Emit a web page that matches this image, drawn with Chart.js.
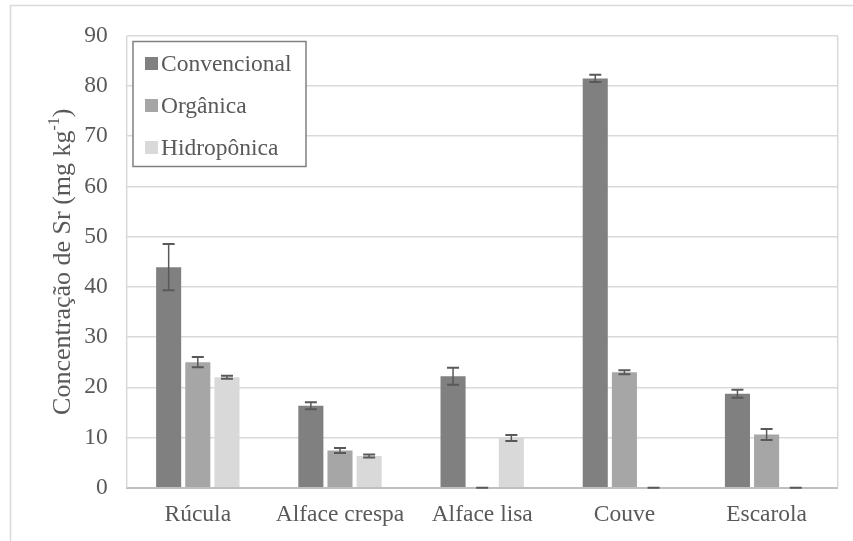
<!DOCTYPE html>
<html>
<head>
<meta charset="utf-8">
<script src="https://cdn.jsdelivr.net/npm/chart.js@4"></script>
<style>
  html, body { margin: 0; padding: 0; background: #ffffff; }
  #wrap { width: 853px; height: 541px; }
</style>
</head>
<body>
<div id="wrap"><canvas id="c" width="853" height="541"></canvas></div>
<script>
// Sr concentration (mg kg-1) in leafy vegetables by production system
const categories = ['Rúcula', 'Alface crespa', 'Alface lisa', 'Couve', 'Escarola'];
const seriesNames = ['Convencional', 'Orgânica', 'Hidropônica'];
const convencional = [43.9, 16.3, 22.2, 81.5, 18.7];
const convencionalErr = [4.6, 0.7, 1.7, 0.7, 0.8];
const organica = [25.0, 7.4, 0, 23.0, 10.6];
const organicaErr = [1.0, 0.5, 0, 0.4, 1.1];
const hidroponica = [22.0, 6.3, 9.9, 0, 0];
const hidroponicaErr = [0.3, 0.3, 0.6, 0, 0];
const yTicks = [0, 10, 20, 30, 40, 50, 60, 70, 80, 90];
const yTitle = 'Concentração de Sr (mg kg';
const yTitleSup = '-1';

const FONT = "'Liberation Serif', 'Times New Roman', serif";
const TEXT = '#595959';
const colors = ['#808080', '#a6a6a6', '#d9d9d9'];
const errors = [convencionalErr, organicaErr, hidroponicaErr];

// page background and the outer frame of the chart
const framePlugin = {
  id: 'frame',
  beforeDraw(chart) {
    const ctx = chart.ctx;
    ctx.save();
    ctx.fillStyle = '#ffffff';
    ctx.fillRect(0, 0, chart.width, chart.height);
    ctx.strokeStyle = '#d9d9d9';
    ctx.lineWidth = 1.5;
    ctx.strokeRect(10.5, 5.5, 1200, 1200);
    ctx.restore();
  },
  beforeDatasetsDraw(chart) {
    const a = chart.chartArea, ctx = chart.ctx;
    ctx.save();
    ctx.strokeStyle = '#d9d9d9';
    ctx.lineWidth = 1.5;
    ctx.beginPath();
    ctx.moveTo(a.left, a.bottom); ctx.lineTo(a.left, a.top);
    ctx.moveTo(a.right, a.top); ctx.lineTo(a.right, a.bottom);
    ctx.stroke();
    ctx.restore();
  }
};

// standard-deviation whiskers on every bar
const errorBarPlugin = {
  id: 'errorBars',
  afterDatasetsDraw(chart) {
    const ctx = chart.ctx, y = chart.scales.y;
    ctx.save();
    ctx.strokeStyle = '#595959';
    chart.data.datasets.forEach((ds, i) => {
      const meta = chart.getDatasetMeta(i);
      meta.data.forEach((bar, j) => {
        const v = ds.data[j], e = errors[i][j];
        const top = y.getPixelForValue(v + e);
        const bot = y.getPixelForValue(Math.max(0, v - e));
        const x = bar.x, half = 6;
        ctx.lineWidth = 1.5;
        ctx.beginPath();
        ctx.moveTo(x, top); ctx.lineTo(x, bot);
        ctx.stroke();
        ctx.lineWidth = 2;
        ctx.beginPath();
        ctx.moveTo(x - half, top); ctx.lineTo(x + half, top);
        ctx.moveTo(x - half, bot); ctx.lineTo(x + half, bot);
        ctx.stroke();
      });
    });
    ctx.restore();
  }
};

// boxed legend inside the plot area, plus the rotated y-axis title
const overlayPlugin = {
  id: 'overlay',
  afterDraw(chart) {
    const ctx = chart.ctx;
    ctx.save();
    // legend box
    const bx = 133, by = 41.5, bw = 173, bh = 125;
    ctx.fillStyle = '#ffffff';
    ctx.fillRect(bx, by, bw, bh);
    ctx.strokeStyle = '#808080';
    ctx.lineWidth = 1.5;
    ctx.strokeRect(bx, by, bw, bh);
    ctx.font = '23.5px ' + FONT;
    ctx.textBaseline = 'middle';
    chart.data.datasets.forEach((ds, i) => {
      const cy = 63.5 + i * 42;
      ctx.fillStyle = ds.backgroundColor;
      ctx.fillRect(145, cy - 6.5, 13, 13);
      ctx.fillStyle = TEXT;
      ctx.fillText(ds.label, 161, cy + 1);
    });
    // y-axis title with superscript exponent
    const a = chart.chartArea;
    ctx.translate(61, (a.top + a.bottom) / 2);
    ctx.rotate(-Math.PI / 2);
    ctx.font = '26px ' + FONT;
    const wMain = ctx.measureText(yTitle).width;
    ctx.font = '16px ' + FONT;
    const wSup = ctx.measureText(yTitleSup).width;
    ctx.font = '26px ' + FONT;
    const wClose = ctx.measureText(')').width;
    let x0 = -(wMain + wSup + wClose) / 2;
    ctx.fillStyle = TEXT;
    ctx.textBaseline = 'alphabetic';
    ctx.fillText(yTitle, x0, 9);
    ctx.font = '16px ' + FONT;
    ctx.fillText(yTitleSup, x0 + wMain, -2);
    ctx.font = '26px ' + FONT;
    ctx.fillText(')', x0 + wMain + wSup, 9);
    ctx.restore();
  }
};

new Chart(document.getElementById('c'), {
  type: 'bar',
  data: {
    labels: categories,
    datasets: [
      { label: seriesNames[0], data: convencional, backgroundColor: colors[0] },
      { label: seriesNames[1], data: organica, backgroundColor: colors[1] },
      { label: seriesNames[2], data: hidroponica, backgroundColor: colors[2] }
    ]
  },
  options: {
    responsive: false,
    devicePixelRatio: 1,
    animation: false,
    events: [],
    categoryPercentage: 0.615,
    barPercentage: 0.86,
    layout: { padding: { top: 35.7, right: 15.3, bottom: 0, left: 0 } },
    plugins: { legend: { display: false }, tooltip: { enabled: false } },
    scales: {
      x: {
        grid: { display: false, drawTicks: false },
        border: { display: true, color: '#bfbfbf', width: 2 },
        ticks: { color: TEXT, font: { family: FONT, size: 23.5 }, padding: 13, maxRotation: 0 },
        afterFit(s) { s.height = 541 - 487.7; }
      },
      y: {
        min: 0, max: 90,
        afterBuildTicks(s) { s.ticks = yTicks.map(v => ({ value: v })); },
        grid: { color: '#d9d9d9', lineWidth: 1.5, drawTicks: false },
        border: { display: false },
        ticks: { color: TEXT, font: { family: FONT, size: 23.5 }, padding: 19 },
        afterFit(s) { s.width = 126.7; }
      }
    }
  },
  plugins: [framePlugin, errorBarPlugin, overlayPlugin]
});
</script>
</body>
</html>
